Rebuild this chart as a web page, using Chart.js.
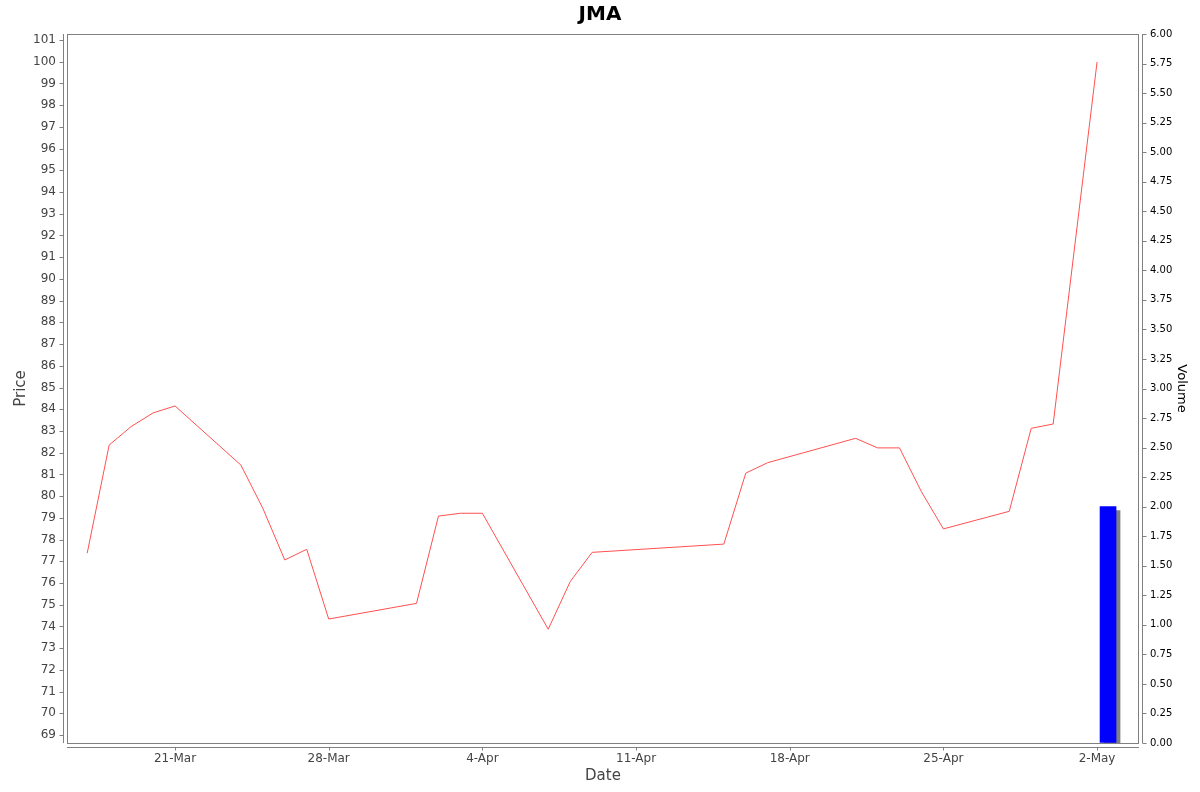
<!DOCTYPE html>
<html>
<head>
<meta charset="utf-8">
<script src="https://cdn.jsdelivr.net/npm/chart.js@4/dist/chart.umd.min.js"></script>
<style>
  body { margin: 0; background: #fff; }
  canvas { display: block; }
</style>
</head>
<body>
<canvas id="grafico" width="1200" height="792"></canvas>
<script>
// Dados
const dates = ['17-Mar', '18-Mar', '19-Mar', '20-Mar', '21-Mar', '24-Mar', '25-Mar', '26-Mar', '27-Mar', '28-Mar',
  '1-Apr', '2-Apr', '3-Apr', '4-Apr', '7-Apr', '8-Apr', '9-Apr', '15-Apr', '16-Apr', '17-Apr',
  '21-Apr', '22-Apr', '23-Apr', '24-Apr', '25-Apr', '28-Apr', '29-Apr', '30-Apr', '2-May'];
const prices = [77.37, 82.35, 83.20, 83.83, 84.15, 81.43, 79.44, 77.06, 77.55, 74.34,
  75.06, 79.08, 79.21, 79.21, 73.87, 76.06, 77.41, 77.79, 81.06, 81.54,
  82.66, 82.22, 82.22, 80.20, 78.49, 79.30, 83.12, 83.32, 99.99];
const volumeDates = ['2-May'];
const volumes = [2.0];
const dateTicks = ['21-Mar', '28-Mar', '4-Apr', '11-Apr', '18-Apr', '25-Apr', '2-May'];
const priceTicks = Array.from({ length: 33 }, (_, i) => 69 + i);

const meses = { Mar: 2, Apr: 3, May: 4 };
const base = Date.UTC(2014, 2, 1);
function dia(s) {
  const p = s.split('-');
  return (Date.UTC(2014, meses[p[1]], parseInt(p[0])) - base) / 864e5;
}
function rotulo(v) {
  const t = dateTicks.find(d => dia(d) === v);
  return t || '';
}

const fonte = 'DejaVu Sans';
const cinza = '#808080';

// linhas dos eixos deslocadas, estilo JFreeChart
const eixos = {
  id: 'eixos',
  beforeDatasetDraw(chart, args) {
    if (args.index === 1) {
      const ctx = chart.ctx;
      ctx.save();
      ctx.shadowColor = 'rgba(128,128,128,1)';
      ctx.shadowOffsetX = 4;
      ctx.shadowOffsetY = 4;
      ctx.shadowBlur = 0;
    }
  },
  afterDatasetDraw(chart, args) {
    if (args.index === 1) chart.ctx.restore();
  },
  afterDraw(chart) {
    const ctx = chart.ctx;
    const a = chart.chartArea;
    ctx.save();
    ctx.strokeStyle = cinza;
    ctx.lineWidth = 1;
    ctx.strokeRect(a.left + 0.5, a.top + 0.5, a.right - a.left - 1, a.bottom - a.top);
    ctx.beginPath();
    const xl = a.left - 3.5;
    ctx.moveTo(xl, a.top); ctx.lineTo(xl, a.bottom);
    chart.scales.yPrice.ticks.forEach(t => {
      const y = Math.round(chart.scales.yPrice.getPixelForValue(t.value)) + 0.5;
      ctx.moveTo(xl - 4, y); ctx.lineTo(xl, y);
    });
    const xr = a.right + 3.5;
    ctx.moveTo(xr, a.top); ctx.lineTo(xr, a.bottom);
    chart.scales.yVol.ticks.forEach(t => {
      const y = Math.round(chart.scales.yVol.getPixelForValue(t.value)) + 0.5;
      ctx.moveTo(xr, y); ctx.lineTo(xr + 4, y);
    });
    const yb = a.bottom + 4.5;
    ctx.moveTo(a.left, yb); ctx.lineTo(a.right, yb);
    chart.scales.x.ticks.forEach(t => {
      const x = Math.round(chart.scales.x.getPixelForValue(t.value)) + 0.5;
      ctx.moveTo(x, yb); ctx.lineTo(x, yb + 3);
    });
    ctx.stroke();
    ctx.restore();
  }
};

new Chart(document.getElementById('grafico'), {
  type: 'line',
  data: {
    datasets: [{
      label: 'Price',
      data: dates.map((d, i) => ({ x: dia(d), y: prices[i] })),
      borderColor: '#ff5050',
      borderWidth: 1,
      pointRadius: 0,
      tension: 0,
      fill: false,
      yAxisID: 'yPrice'
    }, {
      type: 'bar',
      label: 'Volume',
      // barra no meio do dia de negociação
      data: volumeDates.map((d, i) => ({ x: dia(d) + 0.5, y: volumes[i] })),
      backgroundColor: '#0000ff',
      borderWidth: 0,
      barThickness: 16,
      yAxisID: 'yVol'
    }]
  },
  plugins: [eixos],
  options: {
    responsive: false,
    animation: false,
    layout: { padding: 0 },
    plugins: {
      legend: { display: false },
      tooltip: { enabled: false },
      title: {
        display: true,
        text: 'JMA',
        color: '#000',
        font: { family: fonte, size: 20, weight: 'bold', lineHeight: 1.2 },
        padding: { top: 3, bottom: 7 }
      }
    },
    scales: {
      x: {
        type: 'linear',
        offset: false,
        min: 15.08,
        max: 63.91,
        afterBuildTicks: s => { s.ticks = dateTicks.map(d => ({ value: dia(d) })); },
        afterFit: s => { s.height = 49; },
        grid: { display: true, offset: false, drawOnChartArea: false, drawTicks: true, tickLength: 4, color: 'transparent' },
        border: { display: false },
        ticks: {
          autoSkip: false, maxRotation: 0, padding: 5,
          color: '#444', font: { family: fonte, size: 12 },
          callback: v => rotulo(v)
        },
        title: {
          display: true, text: 'Date', color: '#444',
          font: { family: fonte, size: 15 },
          padding: { top: 0, bottom: 7 }
        }
      },
      yPrice: {
        type: 'linear',
        position: 'left',
        min: 68.632,
        max: 101.276,
        afterBuildTicks: s => { s.ticks = priceTicks.map(v => ({ value: v })); },
        afterFit: s => { s.width = 67; },
        grid: { display: true, drawOnChartArea: false, drawTicks: true, tickLength: 8, color: 'transparent' },
        border: { display: false },
        ticks: {
          autoSkip: false, padding: 3,
          color: '#444', font: { family: fonte, size: 12 }
        },
        title: {
          display: true, text: 'Price', color: '#444',
          font: { family: fonte, size: 15 },
          padding: { top: 12, bottom: 0 }
        }
      },
      yVol: {
        type: 'linear',
        position: 'right',
        min: 0,
        max: 6,
        afterFit: s => { s.width = 61; },
        grid: { display: true, drawOnChartArea: false, drawTicks: true, tickLength: 8, color: 'transparent' },
        border: { display: false },
        ticks: {
          autoSkip: false, stepSize: 0.25, padding: 3,
          color: '#000', font: { family: fonte, size: 10 },
          callback: v => v.toFixed(2)
        },
        title: {
          display: true, text: 'Volume', color: '#000',
          font: { family: fonte, size: 13 },
          padding: { top: 11, bottom: 0 }
        }
      }
    }
  }
});
</script>
</body>
</html>
